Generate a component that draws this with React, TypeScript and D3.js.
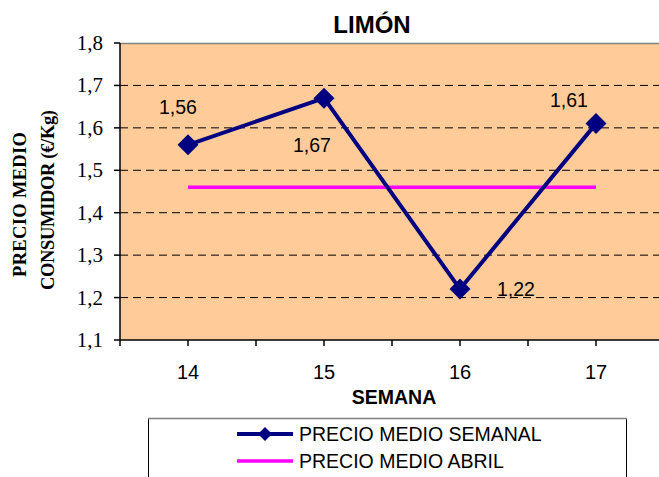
import React from "react";
import * as d3 from "d3";

const weeks = ["14", "15", "16", "17"];
const weeklyPrice = [1.56, 1.67, 1.22, 1.61];
const aprilPrice = [1.46, 1.46, 1.46, 1.46];
const yTicks = [1.1, 1.2, 1.3, 1.4, 1.5, 1.6, 1.7, 1.8];
const gridTicks = [1.2, 1.3, 1.4, 1.5, 1.6, 1.7];
const seriesNames = ["PRECIO MEDIO SEMANAL", "PRECIO MEDIO ABRIL"];
const labelOffsets: [number, number][] = [
  [-10, -31],
  [-12, 54],
  [56, 7],
  [-27, -17],
];

const W = 659;
const H = 477;
const left = 120;
const right = 664;
const top = 43;
const bottom = 340;

const SANS = "'Liberation Sans', Arial, sans-serif";
const SERIF = "'Liberation Serif', 'Times New Roman', serif";

export default function App() {
  const x = d3.scaleBand<string>().domain(weeks).range([left, right]);
  const y = d3.scaleLinear().domain([1.1, 1.8]).range([bottom, top]);
  const cx = (w: string) => (x(w) as number) + x.bandwidth() / 2;

  const line = d3
    .line<number>()
    .x((_, i) => cx(weeks[i]))
    .y((d) => y(d));

  const half = x.bandwidth() / 2;
  const xTickPositions = d3.range(0, weeks.length * 2 + 1).map((k) => left + k * half);

  const diamond = (px: number, py: number, r: number) =>
    `M${px},${py - r}L${px + r},${py}L${px},${py + r}L${px - r},${py}Z`;

  return (
    <svg
      width={W}
      height={H}
      style={{ position: "absolute", left: 0, top: 0, display: "block", background: "#fff" }}
    >
      {/* plot area */}
      <rect x={left} y={top} width={right - left} height={bottom - top} fill="#FFCC99" />
      {gridTicks.map((t) => (
        <line
          key={t}
          x1={left}
          x2={right}
          y1={y(t)}
          y2={y(t)}
          stroke="#000"
          strokeWidth={1}
          strokeDasharray="8,5"
        />
      ))}
      <line x1={left} x2={right} y1={top + 0.5} y2={top + 0.5} stroke="#808080" strokeWidth={1.5} />
      {/* axes */}
      <line x1={left} x2={left} y1={top} y2={bottom} stroke="#000" strokeWidth={1.5} />
      <line x1={left} x2={right} y1={bottom} y2={bottom} stroke="#000" strokeWidth={1.5} />
      {yTicks.map((t) => (
        <g key={t}>
          <line x1={left - 6} x2={left} y1={y(t)} y2={y(t)} stroke="#000" strokeWidth={1.5} />
          <text
            x={103}
            y={y(t) + 7}
            textAnchor="end"
            fontFamily={SERIF}
            fontSize={21}
            fill="#000"
          >
            {d3.format(".1f")(t).replace(".", ",")}
          </text>
        </g>
      ))}
      {xTickPositions.map((p, i) => (
        <line key={i} x1={p} x2={p} y1={bottom} y2={bottom + 6} stroke="#000" strokeWidth={1.5} />
      ))}
      {weeks.map((w) => (
        <text
          key={w}
          x={cx(w)}
          y={379}
          textAnchor="middle"
          fontFamily={SANS}
          fontSize={20}
          fill="#000"
        >
          {w}
        </text>
      ))}

      {/* April line */}
      <path d={line(aprilPrice) || ""} fill="none" stroke="#FF00FF" strokeWidth={3.5} />
      {/* Weekly line */}
      <path d={line(weeklyPrice) || ""} fill="none" stroke="#000080" strokeWidth={4} />
      {weeklyPrice.map((v, i) => (
        <path key={i} d={diamond(cx(weeks[i]), y(v), 10.5)} fill="#000080" />
      ))}
      {weeklyPrice.map((v, i) => (
        <text
          key={i}
          x={cx(weeks[i]) + labelOffsets[i][0]}
          y={y(v) + labelOffsets[i][1]}
          textAnchor="middle"
          fontFamily={SANS}
          fontSize={19.5}
          fill="#000"
        >
          {v.toFixed(2).replace(".", ",")}
        </text>
      ))}

      {/* title */}
      <text
        x={372}
        y={33}
        textAnchor="middle"
        fontFamily={SANS}
        fontWeight="bold"
        fontSize={24}
        fill="#000"
      >
        LIMÓN
      </text>

      {/* axis titles */}
      <text
        x={394}
        y={404}
        textAnchor="middle"
        fontFamily={SANS}
        fontWeight="bold"
        fontSize={19.5}
        fill="#000"
      >
        SEMANA
      </text>
      <g transform="translate(25.5,204.5) rotate(-90)">
        <text
          x={-72.5}
          textLength={145}
          lengthAdjust="spacing"
          fontFamily={SERIF}
          fontWeight="bold"
          fontSize={18.5}
          fill="#000"
        >
          PRECIO MEDIO
        </text>
      </g>
      <g transform="translate(54,200) rotate(-90)">
        <text
          x={-90}
          textLength={180}
          lengthAdjust="spacing"
          fontFamily={SERIF}
          fontWeight="bold"
          fontSize={18.5}
          fill="#000"
        >
          CONSUMIDOR  (€/Kg)
        </text>
      </g>

      {/* legend */}
      <rect x={148.5} y={418.5} width={478} height={80} fill="#fff" stroke="#000" strokeWidth={1} />
      <line x1={148} x2={627} y1={418.5} y2={418.5} stroke="#808080" strokeWidth={1.5} />
      <line x1={237} x2={293} y1={434} y2={434} stroke="#000080" strokeWidth={4} />
      <path d={diamond(265, 434, 7)} fill="#000080" />
      <line x1={237} x2={293} y1={461} y2={461} stroke="#FF00FF" strokeWidth={3.5} />
      {seriesNames.map((n, i) => (
        <text
          key={n}
          x={299}
          y={441 + i * 27}
          fontFamily={SANS}
          fontSize={19.5}
          fill="#000"
        >
          {n}
        </text>
      ))}
    </svg>
  );
}
